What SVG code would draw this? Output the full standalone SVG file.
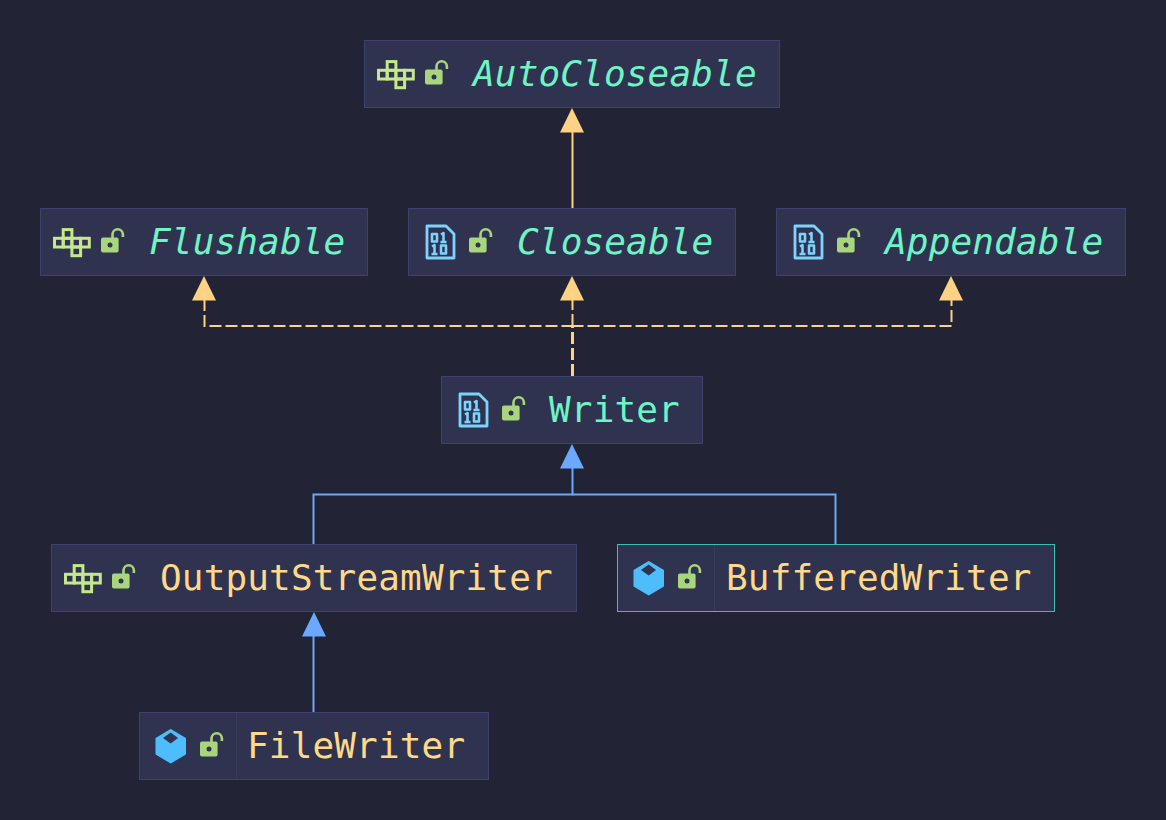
<svg xmlns="http://www.w3.org/2000/svg" width="1166" height="820" viewBox="0 0 1166 820">
<style>
.box{fill:#2f3350;stroke:#3f4270;stroke-width:1}
.cls{stroke:#3bbfb0}
.div{stroke:#383b5c;stroke-width:1}
text{font-family:"DejaVu Sans Mono","Liberation Mono",monospace;font-size:36px;letter-spacing:.15px}
.mint{fill:#6ff5c5}
.mint-i{fill:#6ff5c5;font-style:italic}
.yel{fill:#ffd98a}
.ya{fill:none;stroke:#ffd184;stroke-width:2}
.bl{fill:none;stroke:#6aa9ff;stroke-width:2}
.dash{stroke-dasharray:12 4}
</style>
<defs>
<g id="lock">
<path d="M72.5 30V26.5a5.2 5.2 0 0 1 10.4 0V29" fill="none" stroke="#a9d67c" stroke-width="2.6"/>
<rect x="61" y="29.5" width="17.6" height="15" rx="2" fill="#a9d67c"/>
<circle cx="70" cy="37" r="2.5" fill="#2f3350"/>
</g>
<g id="iface" fill="none" stroke="#c5e88a" stroke-width="3">
<rect x="14.5" y="30.3" width="8.7" height="8.7"/>
<rect x="23.2" y="30.3" width="8.7" height="8.7"/>
<rect x="31.9" y="30.3" width="8.7" height="8.7"/>
<rect x="40.6" y="30.3" width="8.7" height="8.7"/>
<rect x="23.2" y="21.6" width="8.7" height="8.7"/>
<rect x="31.9" y="39" width="8.7" height="8.7"/>
</g>
<g id="file" fill="none" stroke="#7dd3fc" stroke-width="2.8" stroke-linejoin="round">
<path d="M19 18H38L46 26V50H19Z"/>
<rect x="24" y="26" width="5" height="7.5" stroke-width="2.6"/>
<path d="M33 26.5L35.5 25V34M32.5 34H38.5" stroke-width="2.6"/>
<path d="M24 38.5L26.5 37V46M23.5 46H29.5" stroke-width="2.6"/>
<rect x="33" y="37.5" width="5" height="8" stroke-width="2.6"/>
</g>
<g id="cube">
<path d="M31.7 18L46 26.5V42L31.7 50.5L17.5 42V26.5Z" fill="#4dbdfb" stroke="#4dbdfb" stroke-width="2" stroke-linejoin="round"/>
<path d="M31.7 20.5L39 26L31.7 31.5L24 26Z" fill="#2f3350"/>
</g>
</defs>
<rect width="1166" height="820" fill="#222335"/>
<g id="connectors">
<path class="ya" d="M572.5 132V208"/>
<path class="ya dash" d="M572.5 326V300"/>
<path class="ya dash" style="stroke-width:3" d="M572.5 376V326"/>
<path class="ya dash" d="M573.5 326H204.5V300"/>
<path class="ya dash" d="M571.5 326H951.5V300"/>
<path class="bl" d="M572.5 467V494.5H313.5V544"/>
<path class="bl" d="M572.5 494.5H835.5V544"/>
<path class="bl" d="M313.5 636V712"/>
<path d="M572 108L584 132.5H560Z" fill="#ffd184"/>
<path d="M204 276L216 300.5H192Z" fill="#ffd184"/>
<path d="M572 276L584 300.5H560Z" fill="#ffd184"/>
<path d="M951 276L963 300.5H939Z" fill="#ffd184"/>
<path d="M572 444L584 468.5H560Z" fill="#6aa9ff"/>
<path d="M314 612L326 636.5H302Z" fill="#6aa9ff"/>
</g>
<g id="AutoCloseable" transform="translate(364 40)">
<rect class="box" x="0.5" y="0.5" width="415" height="67"/>
<use href="#iface"/><use href="#lock"/>
<text class="mint-i" x="109" y="46">AutoCloseable</text>
</g>
<g id="Flushable" transform="translate(40 208)">
<rect class="box" x="0.5" y="0.5" width="327" height="67"/>
<use href="#iface"/><use href="#lock"/>
<text class="mint-i" x="109" y="46">Flushable</text>
</g>
<g id="Closeable" transform="translate(408 208)">
<rect class="box" x="0.5" y="0.5" width="327" height="67"/>
<use href="#file"/><use href="#lock"/>
<text class="mint-i" x="109" y="46">Closeable</text>
</g>
<g id="Appendable" transform="translate(776 208)">
<rect class="box" x="0.5" y="0.5" width="349" height="67"/>
<use href="#file"/><use href="#lock"/>
<text class="mint-i" x="109" y="46">Appendable</text>
</g>
<g id="Writer" transform="translate(441 376)">
<rect class="box" x="0.5" y="0.5" width="261" height="67"/>
<use href="#file"/><use href="#lock"/>
<text class="mint" x="108" y="46">Writer</text>
</g>
<g id="OutputStreamWriter" transform="translate(51 544)">
<rect class="box" x="0.5" y="0.5" width="525" height="67"/>
<use href="#iface"/><use href="#lock"/>
<text class="yel" x="109" y="46">OutputStreamWriter</text>
</g>
<g id="BufferedWriter" transform="translate(617 544)">
<rect class="box cls" x="0.5" y="0.5" width="437" height="67"/>
<path class="div" d="M97.5 1V67"/>
<use href="#cube"/><use href="#lock"/>
<text class="yel" x="109" y="46">BufferedWriter</text>
</g>
<g id="FileWriter" transform="translate(139 712)">
<rect class="box" x="0.5" y="0.5" width="349" height="67"/>
<path class="div" d="M97.5 1V67"/>
<use href="#cube"/><use href="#lock"/>
<text class="yel" x="108" y="46">FileWriter</text>
</g>
</svg>
